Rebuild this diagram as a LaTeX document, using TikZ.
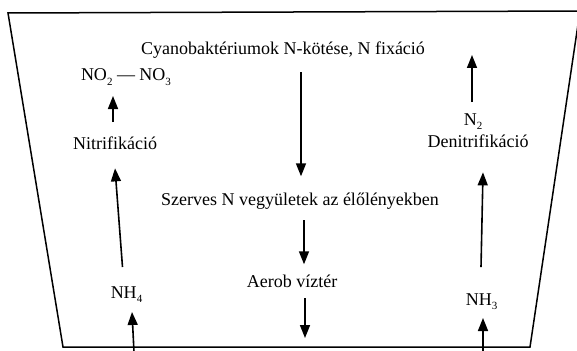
\documentclass[tikz,border=0pt]{standalone}
\usepackage{fontspec}
\setmainfont{Liberation Serif}
\usetikzlibrary{arrows.meta}
\newcommand{\lowsub}[1]{\raisebox{-4.5pt}{\fontsize{11}{11}\selectfont #1}}
\begin{document}
\begin{tikzpicture}[x=1pt,y=-1pt,
    lbl/.style={anchor=base,inner sep=0pt,font=\fontsize{18}{20}\selectfont},
    arr/.style={-{Triangle[width=10pt,length=13pt]},line width=1.6pt}]
  \useasboundingbox (0,0) rectangle (577,350);
  \clip (0,0) rectangle (577,350);
  \coordinate (tl) at (8,13);
  \coordinate (tr) at (580,11);
  \coordinate (br) at (530,347);
  \coordinate (bl) at (63,347);
  \draw[line width=1.5pt] (tl) -- (tr) -- (br) -- (bl) -- cycle;

  \node[lbl] (title) at (283,55) {Cyanobaktériumok N-kötése, N fixáció};
  \node[lbl] (szerves) at (300,205) {Szerves N vegyületek az élőlényekben};
  \node[lbl] (aerob) at (292,287) {Aerob víztér};
  \node[lbl] (no23) at (126,81) {NO\lowsub{2} — NO\lowsub{3}};
  \node[lbl] (nitri) at (115,149) {Nitrifikáció};
  \node[lbl] (nh4) at (126.5,298) {NH\lowsub{4}};
  \node[lbl] (n2) at (473,125) {N\lowsub{2}};
  \node[lbl] (deni) at (478,147) {Denitrifikáció};
  \node[lbl] (nh3) at (481.5,305) {NH\lowsub{3}};
  \coordinate (aerobend) at (305,338);
  \coordinate (n2end) at (472,55);
  \coordinate (nh4in) at (134,352);
  \coordinate (nh3in) at (483,352);

  \draw[arr] ([xshift=18pt,yshift=-13pt]title.south) -- ([xshift=1pt,yshift=16pt]szerves.north);
  \draw[arr] ([xshift=4pt,yshift=-11pt]szerves.south) -- ([xshift=12pt,yshift=10pt]aerob.north);
  \draw[arr] ([xshift=13pt,yshift=-11pt]aerob.south) -- (aerobend);
  \draw[arr] ([xshift=-2pt,yshift=14pt]nitri.north) -- ([xshift=-13pt,yshift=-15pt]no23.base);
  \draw[arr] ([xshift=-4pt,yshift=19pt]nh4.north) -- ([yshift=-19pt]nitri.south);
  \draw[arr] (nh4in) -- ([xshift=5.5pt,yshift=-14pt]nh4.base);
  \draw[arr] ([xshift=-1pt,yshift=11pt]n2.north) -- (n2end);
  \draw[arr] ([xshift=-0.5pt,yshift=26pt]nh3.north) -- ([xshift=5pt,yshift=-25pt]deni.south);
  \draw[arr] (nh3in) -- ([xshift=1.5pt,yshift=-13pt]nh3.base);
\end{tikzpicture}
\end{document}
